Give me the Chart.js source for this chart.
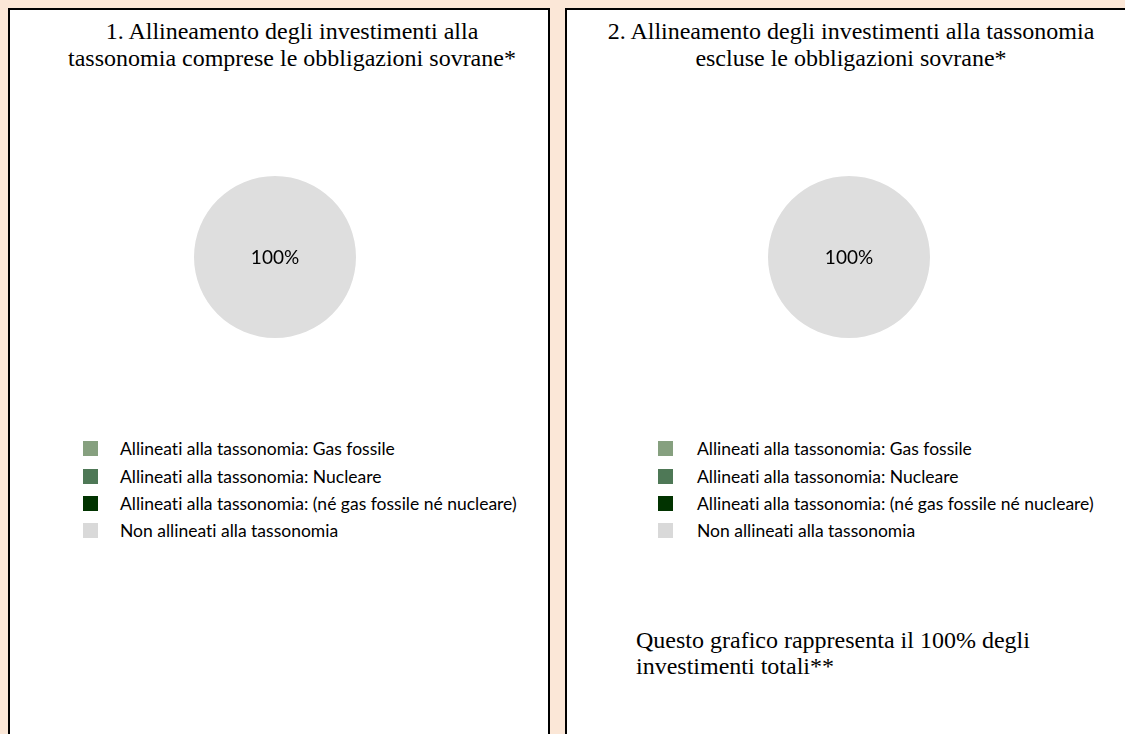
<!DOCTYPE html>
<html>
<head>
<meta charset="utf-8">
<script src="https://cdn.jsdelivr.net/npm/chart.js@4.4.1/dist/chart.umd.min.js"></script>
<style>
  html, body { margin: 0; padding: 0; }
  body { width: 1125px; height: 734px; overflow: hidden; background: #fbe7d7; position: relative; }
  .panel { position: absolute; top: 8px; height: 760px; background: #fff; border: 2px solid #000; box-sizing: border-box; }
  .title { position: absolute; font-family: "Liberation Serif", "Times New Roman", serif; font-size: 24px; line-height: 27px; color: #000; text-align: center; white-space: nowrap; }
  .pie { position: absolute; }
  .legend { position: absolute; font-family: Lato, sans-serif; font-size: 17.5px; color: #000; font-variant-ligatures: none; }
  .legend .row { position: absolute; left: 0; height: 28px; white-space: nowrap; }
  .legend .box { position: absolute; width: 15px; height: 15px; }
  .legend .txt { position: absolute; line-height: 28px; }
  .note { position: absolute; font-family: "Liberation Serif", "Times New Roman", serif; font-size: 24px; line-height: 26px; white-space: nowrap; color: #000; }
</style>
</head>
<body>
<div class="panel" style="left:8px; width:542px;"></div>
<div class="panel" style="left:565px; width:600px;"></div>

<div class="title" style="left:40px; width:504px; top:18px;">1. Allineamento degli investimenti alla<br>tassonomia comprese le obbligazioni sovrane*</div>
<div class="title" style="left:566px; width:570px; top:18px;">2. Allineamento degli investimenti alla tassonomia<br>escluse le obbligazioni sovrane*</div>

<canvas id="pie1" class="pie" width="180" height="180" style="left:185px; top:167px;"></canvas>
<canvas id="pie2" class="pie" width="180" height="180" style="left:759px; top:167px;"></canvas>

<div id="legend1" class="legend" style="left:83px; top:0px;"></div>
<div id="legend2" class="legend" style="left:658px; top:0px;"></div>

<div class="note" style="left:636px; top:627px;">Questo grafico rappresenta il 100% degli<br>investimenti totali**</div>

<script>
// categorie e valori
let categories = [
    'Allineati alla tassonomia: Gas fossile',
    'Allineati alla tassonomia: Nucleare',
    'Allineati alla tassonomia: (né gas fossile né nucleare)',
    'Non allineati alla tassonomia'
];
let valuesWithSovereign = [0, 0, 0, 100];
let valuesWithoutSovereign = [0, 0, 0, 100];
let colors = ['#86a07f', '#4e7856', '#013300', '#dedede'];
let legendColors = ['#86a07f', '#4e7856', '#013300', '#d9d9d9'];

// scrive la percentuale al centro della fetta (al centro del cerchio se la fetta è piena)
let percentLabels = {
    id: 'percentLabels',
    afterDatasetsDraw(chart) {
        let ctx = chart.ctx;
        let meta = chart.getDatasetMeta(0);
        let values = chart.data.datasets[0].data;
        ctx.save();
        ctx.font = '19px Lato, sans-serif';
        ctx.fillStyle = '#000';
        ctx.textAlign = 'center';
        ctx.textBaseline = 'middle';
        meta.data.forEach((arc, i) => {
            if (!values[i]) return;
            let pos = arc.circumference >= 2 * Math.PI - 0.001 ? {x: arc.x, y: arc.y} : arc.tooltipPosition();
            ctx.fillText(values[i] + '%', pos.x, pos.y + 1);
        });
        ctx.restore();
    }
};

function loadPie(id, values) {
    let ctx = document.getElementById(id).getContext('2d');
    return new Chart(ctx, {
        type: 'pie',
        data: {
            labels: categories,
            datasets: [{
                data: values,
                backgroundColor: colors,
                borderWidth: 0
            }]
        },
        options: {
            responsive: false,
            animation: false,
            layout: { padding: 9 },
            plugins: {
                legend: { display: false },
                tooltip: { enabled: false }
            }
        },
        plugins: [percentLabels]
    });
}

function buildLegend(id) {
    let el = document.getElementById(id);
    let rowCenters = [449, 477, 504, 531];
    categories.forEach((label, i) => {
        let row = document.createElement('div');
        row.className = 'row';
        row.style.top = (rowCenters[i] - 14) + 'px';
        let box = document.createElement('div');
        box.className = 'box';
        box.style.background = legendColors[i];
        box.style.top = '6px';
        let txt = document.createElement('div');
        txt.className = 'txt';
        txt.style.left = (id === 'legend1' ? 37 : 39) + 'px';
        txt.textContent = label;
        row.appendChild(box);
        row.appendChild(txt);
        el.appendChild(row);
    });
}

loadPie('pie1', valuesWithSovereign);
loadPie('pie2', valuesWithoutSovereign);
buildLegend('legend1');
buildLegend('legend2');
</script>
</body>
</html>
